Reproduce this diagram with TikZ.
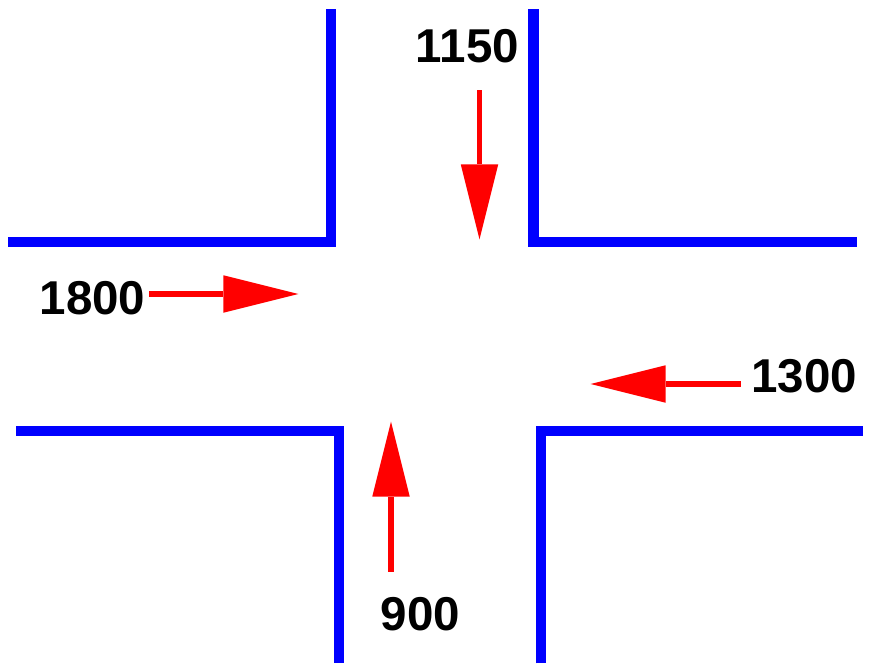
\documentclass[tikz,border=0pt]{standalone}
\usepackage{fontspec}
\setmainfont{Liberation Sans}
\usetikzlibrary{arrows.meta}
\definecolor{roadblue}{RGB}{0,0,255}
\definecolor{flowred}{RGB}{255,0,0}
\begin{document}
\begin{tikzpicture}[x=1pt,y=-1pt,
  curb/.style={draw=roadblue,line width=10.3pt,line join=miter,line cap=butt},
  flow/.style={draw=flowred,line width=5.3pt,
    -{Triangle[length=75pt,width=37.5pt,line width=0pt,fill=flowred]}},
  count/.style={font=\fontsize{47.5}{57}\selectfont\bfseries,inner sep=0pt,anchor=base}]
\useasboundingbox (0,0) rectangle (873,672);
% curbs
\draw[curb] (8.3,241.8) -- (331.2,241.8) -- (331.2,9.3);
\draw[curb] (533.5,9.3) -- (533.5,241.8) -- (857,241.8);
\draw[curb] (16,430.8) -- (338.7,430.8) -- (338.7,663.3);
\draw[curb] (541.2,663.3) -- (541.2,430.8) -- (863.3,430.8);
% flow endpoints
\coordinate (w0) at (149.3,294);
\coordinate (w1) at (298.3,294);
\coordinate (n0) at (479.5,90);
\coordinate (n1) at (479.5,239.3);
\coordinate (e0) at (740.7,384);
\coordinate (e1) at (590.7,384);
\coordinate (s0) at (391,571.7);
\coordinate (s1) at (391,421.7);
\draw[flow] (w0) -- (w1);
\draw[flow] (n0) -- (n1);
\draw[flow] (e0) -- (e1);
\draw[flow] (s0) -- (s1);
% labels
\node[count] (lw) at (92.5,314) {1800};
\node[count] (ln) at (467.5,62.7) {1150};
\node[count] (le) at (804.3,392.7) {1300};
\node[count] (ls) at (420.5,630.7) {900};
\end{tikzpicture}
\end{document}
